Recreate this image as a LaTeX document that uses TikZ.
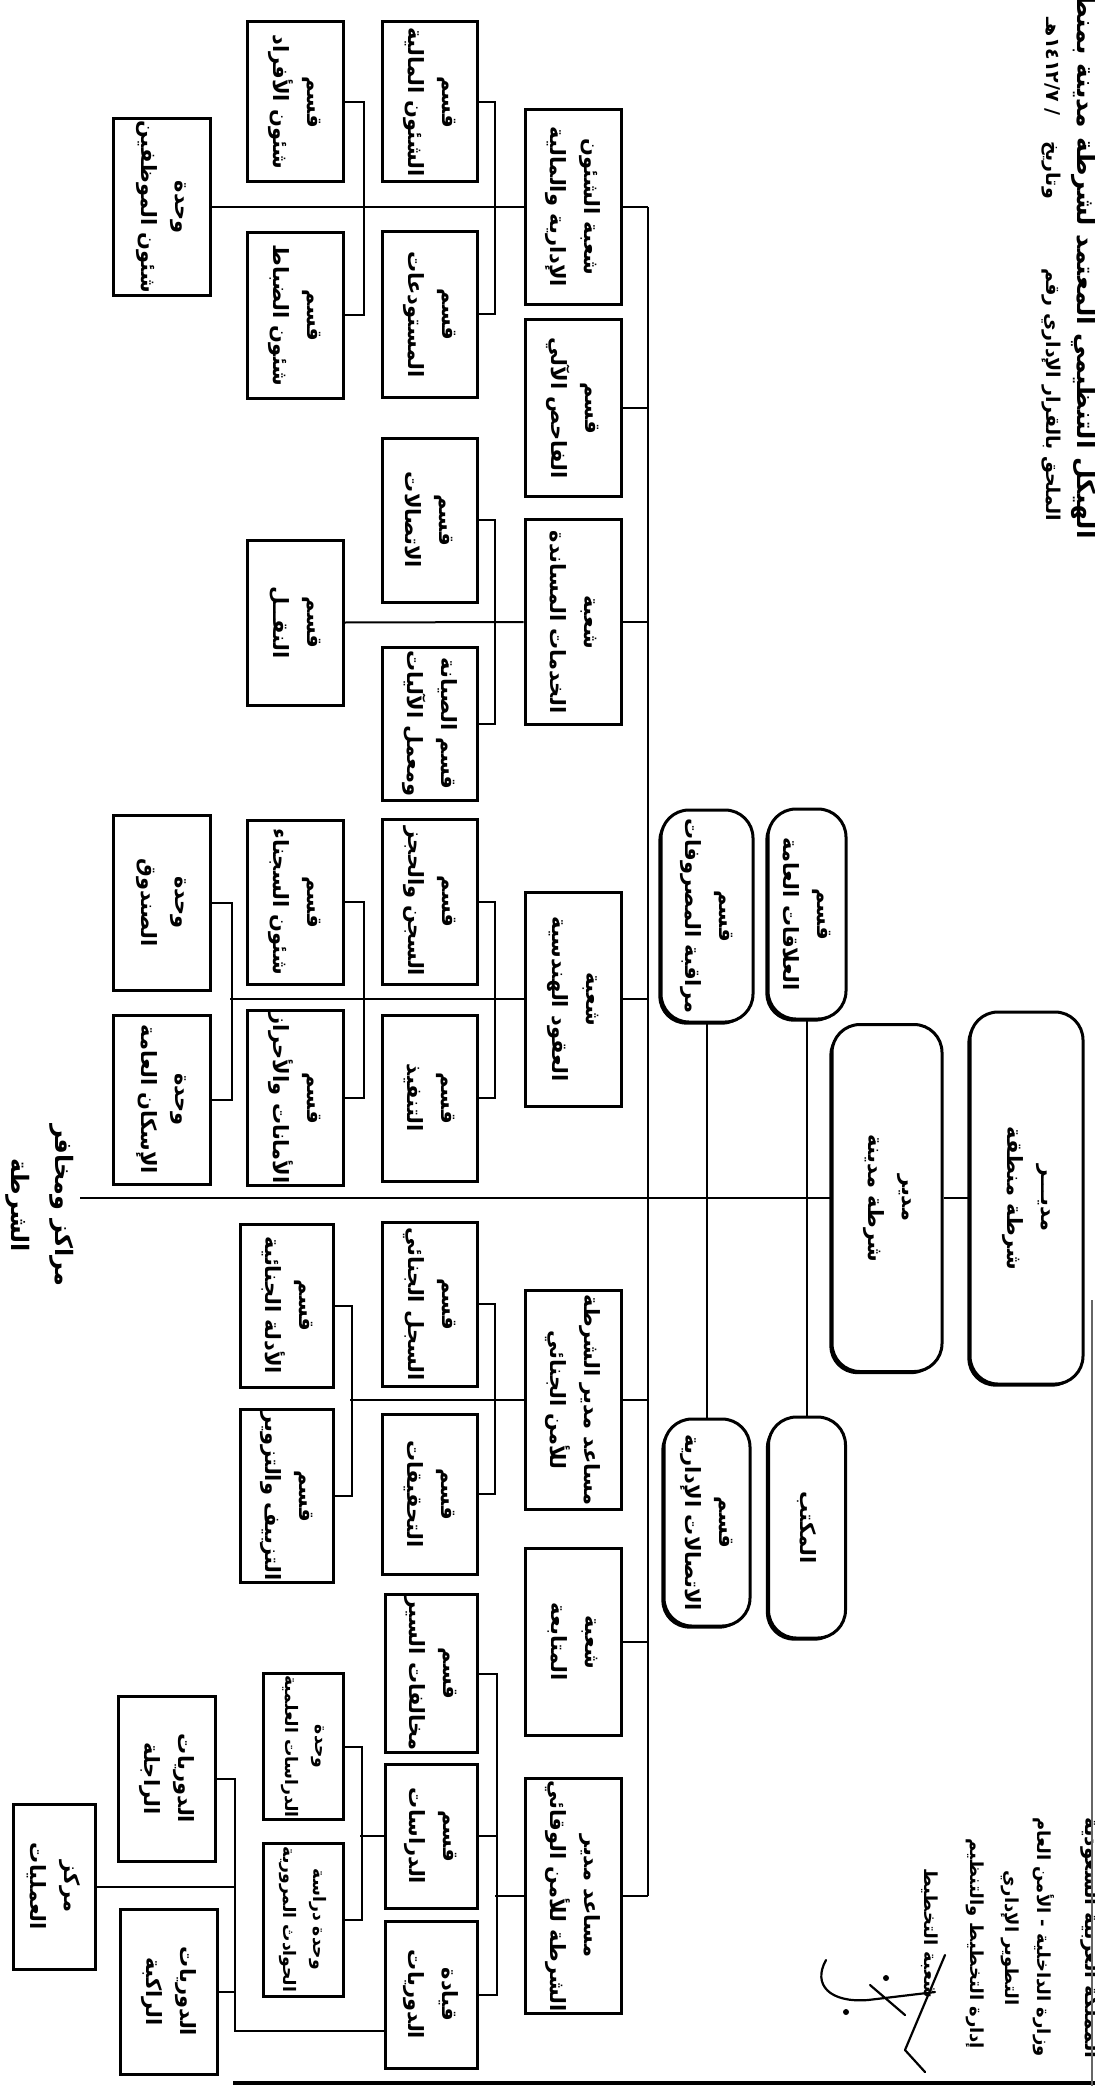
\documentclass[tikz,border=0pt]{standalone}
\usepackage{fontspec}
\newfontfamily\arabicfont[Script=Arabic]{DejaVu Sans}
\TeXXeTstate=1
\usetikzlibrary{shadows}
\newcommand\AR[1]{\beginR #1\endR}
\begin{document}
\begin{tikzpicture}[x=0.5pt,y=-0.5pt, line width=1pt,
  every node/.style={font=\arabicfont\bfseries\fontsize{10.5}{17}\selectfont},
  sq/.style={draw, line width=1.5pt, rotate=-90, inner sep=1pt, align=center, fill=white},
  small/.style={font=\arabicfont\bfseries\fontsize{8.6}{15}\selectfont},
  rd/.style={sq, rounded corners=14pt, drop shadow={shadow xshift=-1.3pt, shadow yshift=-1.3pt, opacity=1, fill=black}},
  lbl/.style={rotate=-90, inner sep=0pt, align=center}]
\useasboundingbox (0,0) rectangle (1095,2086);
\clip (0,0) rectangle (1095,2086);

% ---------- root level ----------
\node[rd, minimum width=186pt, minimum height=56.5pt] (R1) at (1026.5,1198) {\AR{مديـــر}\\\AR{شرطة منطقة}};
\node[rd, minimum width=173.5pt, minimum height=55pt] (R2) at (887,1198) {\AR{مدير}\\\AR{شرطة مدينة}};
\node[rd, minimum width=105pt, minimum height=39pt] (PR) at (807,914) {\AR{قسم}\\\AR{العلاقات العامة}};
\node[rd, minimum width=110.5pt, minimum height=38.5pt] (OF) at (807,1527.5) {\AR{المكتب}};
\node[rd, minimum width=106pt, minimum height=46pt] (MR) at (707,916) {\AR{قسم}\\\AR{مراقبة المصروفات}};
\node[rd, minimum width=103.5pt, minimum height=43pt] (AC) at (707,1522.5) {\AR{قسم}\\\AR{الاتصالات الإدارية}};

% ---------- second level ----------
\node[sq, minimum width=97.5pt, minimum height=48pt] (S1) at (573,207) {\AR{شعبة الشئون}\\\AR{الإدارية والمالية}};
\node[sq, minimum width=88pt, minimum height=48pt] (S2) at (573,408) {\AR{قسم}\\\AR{الفاحص الآلي}};
\node[sq, minimum width=102.5pt, minimum height=48pt] (S3) at (573,622) {\AR{شعبة}\\\AR{الخدمات المساندة}};
\node[sq, minimum width=107pt, minimum height=48pt] (S4) at (573,999) {\AR{شعبة}\\\AR{العقود الهندسية}};
\node[sq, minimum width=109.5pt, minimum height=48pt] (S5) at (573,1400) {\AR{مساعد مدير الشرطة}\\\AR{للأمن الجنائي}};
\node[sq, minimum width=93.5pt, minimum height=48pt] (S6) at (573,1642) {\AR{شعبة}\\\AR{المتابعة}};
\node[sq, minimum width=115pt, minimum height=48pt] (S7) at (573,1896) {\AR{مساعد مدير}\\\AR{الشرطة للأمن الوقائي}};

% ---------- third level ----------
\node[sq, minimum width=80pt, minimum height=47.5pt] (A1) at (429.5,102) {\AR{قسم}\\\AR{الشئون المالية}};
\node[sq, minimum width=82.5pt, minimum height=47.5pt] (A2) at (429.5,314.5) {\AR{قسم}\\\AR{المستودعات}};
\node[sq, minimum width=80pt, minimum height=48pt] (A3) at (295,102) {\AR{قسم}\\\AR{شئون الأفراد}};
\node[sq, minimum width=82.5pt, minimum height=48pt] (A4) at (295,315.5) {\AR{قسم}\\\AR{شئون الضباط}};
\node[sq, minimum width=84pt, minimum height=48.5pt] (A5) at (161.5,207) {\AR{وحدة}\\\AR{شئون الموظفين}};

\node[sq, minimum width=82pt, minimum height=47.5pt] (B1) at (429.5,520) {\AR{قسم}\\\AR{الاتصالات}};
\node[sq, minimum width=76.5pt, minimum height=47.5pt] (B2) at (429.5,723.5) {\AR{قسم الصيانة}\\\AR{ومعمل الآليات}};
\node[sq, minimum width=82.5pt, minimum height=48pt] (B3) at (295,622.5) {\AR{قسم}\\\AR{النقــل}};

\node[sq, minimum width=82.5pt, minimum height=47.5pt] (C1) at (429.5,901.5) {\AR{قسم}\\\AR{السجن والحجز}};
\node[sq, minimum width=83pt, minimum height=47.5pt] (C2) at (429.5,1098) {\AR{قسم}\\\AR{التنفيذ}};
\node[sq, minimum width=82pt, minimum height=48pt] (C3) at (295,902) {\AR{قسم}\\\AR{شئون السجناء}};
\node[sq, minimum width=83pt, minimum height=48pt] (C4) at (295,1098) {\AR{قسم}\\\AR{الأمانات والأحراز}};
\node[sq, minimum width=87.5pt, minimum height=48.5pt] (C5) at (161.5,902.5) {\AR{وحدة}\\\AR{الصندوق}};
\node[sq, minimum width=84.5pt, minimum height=48.5pt] (C6) at (161.5,1099.5) {\AR{وحدة}\\\AR{الإسكان العامة}};

\node[sq, minimum width=82pt, minimum height=47.5pt] (D1) at (429.5,1304) {\AR{قسم}\\\AR{السجل الجنائي}};
\node[sq, minimum width=80pt, minimum height=47.5pt] (D2) at (429.5,1494) {\AR{قسم}\\\AR{التحقيقات}};
\node[sq, minimum width=81.5pt, minimum height=46.5pt] (D3) at (287,1305.5) {\AR{قسم}\\\AR{الأدلة الجنائية}};
\node[sq, minimum width=82pt, minimum height=46.5pt] (D4) at (287,1496) {\AR{قسم}\\\AR{التزييف والتزوير}};

\node[sq, minimum width=75.5pt, minimum height=46pt] (E1) at (431,1673.5) {\AR{قسم}\\\AR{مخالفات السير}};
\node[sq, minimum width=72pt, minimum height=46pt] (E2) at (431,1836) {\AR{قسم}\\\AR{الدراسات}};
\node[sq, minimum width=73.5pt, minimum height=46pt] (E3) at (431,1994.5) {\AR{قيادة}\\\AR{الدوريات}};
\node[sq, small, minimum width=72.5pt, minimum height=40pt] (F1) at (303,1746.5) {\AR{وحدة}\\\AR{الدراسات العلمية}};
\node[sq, small, minimum width=76.5pt, minimum height=40pt] (F2) at (303,1919.5) {\AR{وحدة دراسة}\\\AR{الحوادث المرورية}};
\node[sq, minimum width=82.5pt, minimum height=48.5pt] (G1) at (166.5,1778.5) {\AR{الدوريات}\\\AR{الراجلة}};
\node[sq, minimum width=82.5pt, minimum height=48.5pt] (G2) at (168.5,1991.5) {\AR{الدوريات}\\\AR{الراكبة}};
\node[sq, minimum width=82.5pt, minimum height=41pt] (G3) at (54,1886.5) {\AR{مركز}\\\AR{العمليات}};

% ---------- connectors ----------
\coordinate (spineL) at (80,1198);
\coordinate (vtop) at (648,207);
\coordinate (vbot) at (648,1896);
\draw (R1.south) -- (R2.north);
\draw (R2.south) -- (spineL);
\draw (PR.east) -- (OF.west);
\draw (MR.east) -- (AC.west);
\draw (vtop) -- (vbot);
\foreach \s in {S1,S2,S3,S4,S5,S6,S7} \draw (\s.north) -- (\s.north -| vtop);

\draw (A1.north) -- ++(16,0) |- (A2.north);
\draw (A3.north) -- ++(19,0) |- (A4.north);
\draw (A5.north) -- (S1.south);

\draw (B1.north) -- ++(16,0) |- (B2.north);
\draw (B3.north) -- (S3.south);

\coordinate (kC) at (230,999);
\draw (C1.north) -- ++(16,0) |- (C2.north);
\draw (C3.north) -- ++(19,0) |- (C4.north);
\draw (C5.north) -- ++(20,0) |- (C6.north);
\draw (S4.south) -- (kC);

\coordinate (kD) at (350,1400);
\draw (D1.north) -- ++(16,0) |- (D2.north);
\draw (D3.north) -- ++(17,0) |- (D4.north);
\draw (S5.south) -- (kD);

\coordinate (kE) at (495,1896);
\draw (E1.north) -- ++(18,0) |- (E3.north);
\draw (E2.north) -- ++(18,0);
\draw (S7.south) -- (kE);

\coordinate (kF) at (360,1836);
\draw (F1.north) -- ++(17,0) |- (F2.north);
\draw (E2.south) -- (kF);

\coordinate (kG) at (235,2031);
\draw (G1.north) -| (kG) -- (kG -| E3.south);
\draw (G2.north) -- (G2.north -| kG);
\draw (G3.north) -- (G3.north -| kG);

% ---------- free texts ----------
\node[lbl, font=\arabicfont\bfseries\fontsize{12}{22}\selectfont] (centres) at (40,1205) {\AR{مراكز ومخافر}\\\AR{الشرطة}};

\node[lbl, anchor=east, font=\arabicfont\bfseries\fontsize{12.5}{15}\selectfont] (title) at (1084,540) {\AR{الهيكل التنظيمي المعتمد لشرطة مدينة بمنطقة}};
\node[lbl, anchor=east, font=\arabicfont\bfseries\fontsize{9.5}{12}\selectfont] (annex) at (1051,522) {\AR{الملحق بالقرار الإداري رقم}};
\node[lbl, anchor=east, font=\arabicfont\bfseries\fontsize{9.5}{12}\selectfont] (date) at (1051,200) {\AR{وتاريخ \quad / \beginL ١٤١٢/٧\endL هـ}};

\node[lbl, font=\arabicfont\bfseries\fontsize{10}{12}\selectfont] (k1) at (1091,1938) {\AR{المملكة العربية السعودية}};
\node[lbl, font=\arabicfont\bfseries\fontsize{9}{12}\selectfont] (k2) at (1044,1937) {\AR{وزارة الداخلية - الأمن العام}};
\node[lbl, font=\arabicfont\bfseries\fontsize{9}{12}\selectfont] (k3) at (1010,1938) {\AR{التطوير الإداري}};
\node[lbl, font=\arabicfont\bfseries\fontsize{9}{12}\selectfont] (k4) at (975,1944) {\AR{إدارة التخطيط والتنظيم}};
\node[lbl, font=\arabicfont\bfseries\fontsize{9}{12}\selectfont] (k5) at (930,1933) {\AR{شعبة التخطيط}};

% signature
\draw[line width=1.1pt, line cap=round, line join=round]
  (826,1960) .. controls (812,1985) and (830,2003) .. (868,2000)
  -- (935,1992);
\draw[line width=1.1pt, line cap=round, line join=round]
  (945,1955) -- (905,2050) -- (925,2072);
\draw[line width=1.1pt, line cap=round] (870,1985) -- (905,2015);
\fill (886,1978) circle (3);
\fill (846,2012) circle (3);

% page borders
\draw[line width=2pt] (233,2083) -- (1095,2083);
\draw[line width=0.8pt, black!60] (1092,1300) -- (1092,2086);
\end{tikzpicture}
\end{document}
